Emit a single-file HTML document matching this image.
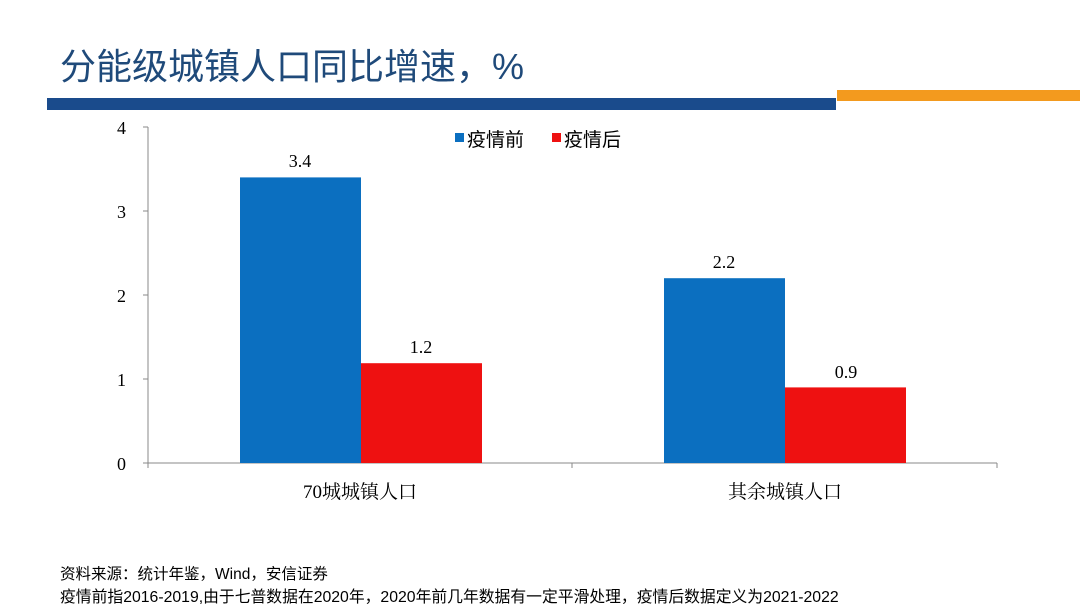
<!DOCTYPE html>
<html><head><meta charset="utf-8"><style>
body{margin:0;width:1080px;height:612px;background:#fff;overflow:hidden;position:relative;font-family:"Liberation Sans","Noto Sans CJK SC",sans-serif}
.a{position:absolute}
</style></head><body>
<div class="a" style="left:60px;top:38px;font-size:36px;color:#1f4a7a;white-space:nowrap">分能级城镇人口同比增速，%</div>
<div class="a" style="left:47px;top:98px;width:789px;height:12px;background:#1a4b8c"></div>
<div class="a" style="left:837px;top:90px;width:243px;height:11px;background:#f39a1e"></div>
<svg class="a" style="left:0;top:0" width="1080" height="612">
<g font-family="Liberation Serif, serif" font-size="18" fill="#000">
<line x1="148" y1="127" x2="148" y2="463" stroke="#888"/>
<line x1="148" y1="463" x2="997" y2="463" stroke="#888"/>
<g stroke="#888"><line x1="143" y1="127" x2="148" y2="127"/><line x1="143" y1="211" x2="148" y2="211"/><line x1="143" y1="295" x2="148" y2="295"/><line x1="143" y1="379" x2="148" y2="379"/><line x1="143" y1="463" x2="148" y2="463"/><line x1="148" y1="463" x2="148" y2="468"/><line x1="572" y1="463" x2="572" y2="468"/><line x1="997" y1="463" x2="997" y2="468"/></g>
<text x="126" y="134" text-anchor="end">4</text>
<text x="126" y="218" text-anchor="end">3</text>
<text x="126" y="302" text-anchor="end">2</text>
<text x="126" y="386" text-anchor="end">1</text>
<text x="126" y="470" text-anchor="end">0</text>
<rect x="240" y="177.4" width="121" height="285.6" fill="#0b6fc0"/>
<rect x="361" y="363.2" width="121" height="99.8" fill="#ee1111"/>
<rect x="664" y="278.2" width="121" height="184.8" fill="#0b6fc0"/>
<rect x="785" y="387.4" width="121" height="75.6" fill="#ee1111"/>
<text x="300" y="167" text-anchor="middle">3.4</text>
<text x="421" y="353" text-anchor="middle">1.2</text>
<text x="724" y="268" text-anchor="middle">2.2</text>
<text x="846" y="378" text-anchor="middle">0.9</text>
<text x="360" y="498" text-anchor="middle" font-family="Liberation Serif, Noto Serif CJK SC, serif" font-size="19">70城城镇人口</text>
<text x="785" y="498" text-anchor="middle" font-family="Liberation Serif, Noto Serif CJK SC, serif" font-size="19">其余城镇人口</text>
<rect x="455" y="133" width="9" height="9" fill="#0b6fc0"/>
<text x="467" y="146" font-family="Noto Sans CJK SC, sans-serif" font-size="19">疫情前</text>
<rect x="552" y="133" width="9" height="9" fill="#ee1111"/>
<text x="564" y="146" font-family="Noto Sans CJK SC, sans-serif" font-size="19">疫情后</text>
</g>
</svg>
<div class="a" style="left:60px;top:562px;font-size:15.5px;color:#000;white-space:nowrap">资料来源：统计年鉴，Wind，安信证券</div>
<div class="a" style="left:60px;top:584px;font-size:15.8px;color:#000;white-space:nowrap">疫情前指2016-2019,由于七普数据在2020年，2020年前几年数据有一定平滑处理，疫情后数据定义为2021-2022</div>
</body></html>
